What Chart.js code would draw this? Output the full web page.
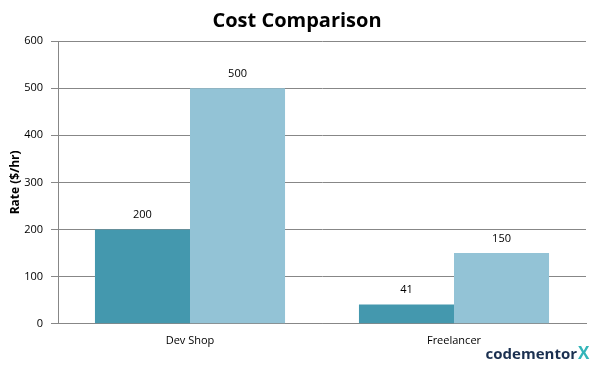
<!DOCTYPE html>
<html>
<head>
<meta charset="utf-8">
<script src="https://cdn.jsdelivr.net/npm/chart.js@4/dist/chart.umd.min.js"></script>
<style>
  html, body { margin: 0; padding: 0; background: #fff; }
  #wrap { width: 595px; height: 366px; position: relative; }
</style>
</head>
<body>
<div id="wrap"><canvas id="chart"></canvas></div>
<script>
const categories = ['Dev Shop', 'Freelancer'];
const seriesA = [200, 41];
const seriesB = [500, 150];
const yTicks = [0, 100, 200, 300, 400, 500, 600];

const font = '"Open Sans", "DejaVu Sans", sans-serif';

// value labels above each bar
const barLabels = {
  id: 'barLabels',
  afterDatasetsDraw(chart) {
    const ctx = chart.ctx;
    ctx.save();
    ctx.fillStyle = '#000';
    ctx.font = '11px ' + font;
    ctx.textAlign = 'center';
    ctx.textBaseline = 'bottom';
    chart.data.datasets.forEach((ds, i) => {
      chart.getDatasetMeta(i).data.forEach((bar, j) => {
        ctx.fillText(ds.data[j], bar.x, bar.y - 9);
      });
    });
    ctx.restore();
  }
};

// logo in the corner
const logo = {
  id: 'logo',
  afterDraw(chart) {
    const ctx = chart.ctx;
    ctx.save();
    ctx.textBaseline = 'alphabetic';
    ctx.font = 'bold 15px ' + font;
    ctx.fillStyle = '#1b3050';
    ctx.textAlign = 'left';
    const t = 'codementor';
    const w = ctx.measureText(t).width;
    ctx.fillText(t, 577 - w, 359);
    ctx.font = 'bold 17px ' + font;
    ctx.fillStyle = '#33b5b9';
    ctx.fillText('X', 578, 359);
    ctx.restore();
  }
};

new Chart(document.getElementById('chart'), {
  type: 'bar',
  data: {
    labels: categories,
    datasets: [
      { data: seriesA, backgroundColor: '#4498AE', categoryPercentage: 0.72, barPercentage: 1 },
      { data: seriesB, backgroundColor: '#93C3D6', categoryPercentage: 0.72, barPercentage: 1 }
    ]
  },
  options: {
    responsive: true,
    maintainAspectRatio: false,
    animation: false,
    layout: { padding: { left: 8, right: 9, top: 0, bottom: 9 } },
    plugins: {
      legend: { display: false },
      tooltip: { enabled: false },
      title: {
        display: true,
        text: 'Cost Comparison',
        color: '#000',
        font: { family: font, size: 20, weight: 'bold' },
        padding: { top: 9, bottom: 8 }
      }
    },
    scales: {
      x: {
        grid: { display: false, drawTicks: false },
        border: { color: '#878787' },
        ticks: { color: '#000', font: { family: font, size: 11 }, padding: 10 }
      },
      y: {
        min: 0,
        max: 600,
        afterBuildTicks(axis) { axis.ticks = yTicks.map(v => ({ value: v })); },
        afterFit(axis) { axis.width = 50; },
        grid: { color: '#878787', tickLength: 7, tickColor: '#878787' },
        border: { color: '#878787' },
        ticks: { color: '#000', font: { family: font, size: 11 }, padding: 8 },
        title: {
          display: true,
          text: 'Rate ($/hr)',
          color: '#000',
          font: { family: font, size: 12, weight: 'bold' },
          padding: 0
        }
      }
    }
  },
  plugins: [barLabels, logo]
});
</script>
</body>
</html>
